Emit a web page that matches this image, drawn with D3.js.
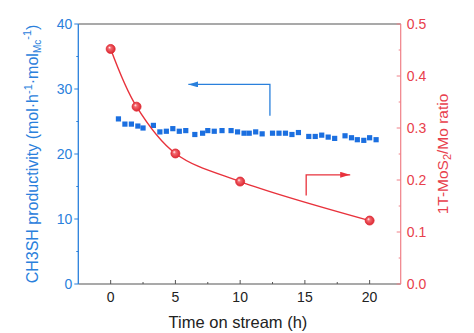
<!DOCTYPE html>
<html>
<head>
<meta charset="utf-8">
<script src="https://cdn.jsdelivr.net/npm/d3@7"></script>
<style>
  html, body { margin: 0; padding: 0; background: #fff; }
  svg { display: block; font-family: "Liberation Sans", Arial, sans-serif; }
</style>
</head>
<body>
<svg id="chart" width="474" height="333"></svg>
<script>
// Methanethiol productivity (left axis) over time on stream
const productivityTime = [0.6, 1.1, 1.6, 2.1, 2.5, 3.3, 3.8, 4.3, 4.8, 5.3, 5.8, 6.5, 7.1, 7.5, 8.0, 8.6,
  9.3, 9.8, 10.3, 10.7, 11.2, 11.7, 12.5, 13.0, 13.5, 14.0, 14.5, 15.3, 15.8, 16.3, 16.8, 17.3,
  18.1, 18.6, 19.05, 19.55, 20.0, 20.5];
const productivity = [25.4, 24.6, 24.6, 24.3, 24.0, 24.4, 23.4, 23.5, 23.9, 23.5, 23.6, 23.0, 23.2, 23.6, 23.5, 23.6,
  23.6, 23.4, 23.2, 23.2, 23.4, 23.1, 23.2, 23.2, 23.2, 23.0, 23.3, 22.7, 22.7, 22.9, 22.6, 22.4,
  22.8, 22.5, 22.2, 22.1, 22.5, 22.2];

// 1T-MoS2/Mo ratio (right axis)
const ratioTime = [0, 2, 5, 10, 20];
const ratio = [0.452, 0.341, 0.251, 0.197, 0.122];

// Axis ticks
const xTicks = [0, 5, 10, 15, 20];
const xMinor = [2.5, 7.5, 12.5, 17.5];
const yLeftTicks = [0, 10, 20, 30, 40];
const yLeftMinor = [5, 15, 25, 35];
const yRightTicks = [0.0, 0.1, 0.2, 0.3, 0.4, 0.5];
const yRightMinor = [0.05, 0.15, 0.25, 0.35, 0.45];

const BLUE = "#1b6fe0";
const BLUE_TEXT = "#2a80dc";
const RED = "#e8323c";
const RED_AXIS = "#f08088";
const RED_TEXT = "#e8404c";
const FRAME = "#555";

const L = 78.3, R = 400.7, T = 24, B = 284;

const svg = d3.select("#chart");

const x = d3.scaleLinear().domain([-2.5, 22.4]).range([L, R]);
const yL = d3.scaleLinear().domain([0, 40]).range([B, T]);
const yR = d3.scaleLinear().domain([0, 0.5]).range([B, T]);

// Frame: top line
svg.append("line").attr("x1", L).attr("x2", R).attr("y1", T).attr("y2", T)
  .attr("stroke", FRAME).attr("stroke-width", 1.2);

// Bottom axis (ticks point inward)
const gx = svg.append("g").attr("transform", `translate(0,${B})`);
gx.append("line").attr("x1", L).attr("x2", R).attr("stroke", FRAME).attr("stroke-width", 1.2);
gx.selectAll(".maj").data(xTicks).join("line").attr("class", "maj")
  .attr("x1", d => x(d)).attr("x2", d => x(d)).attr("y1", 0).attr("y2", -4)
  .attr("stroke", FRAME);
gx.selectAll(".min").data(xMinor).join("line").attr("class", "min")
  .attr("x1", d => x(d)).attr("x2", d => x(d)).attr("y1", 0).attr("y2", -2)
  .attr("stroke", FRAME);
gx.selectAll("text").data(xTicks).join("text")
  .attr("x", d => x(d)).attr("y", 18).attr("text-anchor", "middle")
  .attr("font-size", 14).attr("fill", "#222").text(d => d);

svg.append("text").attr("x", 238).attr("y", 328).attr("text-anchor", "middle")
  .attr("font-size", 16.5).attr("fill", "#222").text("Time on stream (h)");

// Left axis (blue, ticks outward)
const gl = svg.append("g").attr("transform", `translate(${L},0)`);
gl.append("line").attr("y1", T).attr("y2", B).attr("stroke", BLUE_TEXT).attr("stroke-width", 1.3);
gl.selectAll(".maj").data(yLeftTicks).join("line").attr("class", "maj")
  .attr("y1", d => yL(d)).attr("y2", d => yL(d)).attr("x1", 0).attr("x2", -4)
  .attr("stroke", BLUE_TEXT);
gl.selectAll(".min").data(yLeftMinor).join("line").attr("class", "min")
  .attr("y1", d => yL(d)).attr("y2", d => yL(d)).attr("x1", 0).attr("x2", -2)
  .attr("stroke", BLUE_TEXT);
gl.selectAll("text").data(yLeftTicks).join("text")
  .attr("x", -6).attr("y", d => yL(d) + 5).attr("text-anchor", "end")
  .attr("font-size", 14).attr("fill", BLUE_TEXT).text(d => d);

const leftLabel = svg.append("text")
  .attr("transform", "translate(38,154) rotate(-90)")
  .attr("text-anchor", "middle").attr("font-size", 16).attr("fill", BLUE_TEXT);
leftLabel.append("tspan").text("CH3SH productivity (mol·h");
leftLabel.append("tspan").attr("font-size", 11).attr("dy", -6).text("-1");
leftLabel.append("tspan").attr("dy", 6).text("·mol");
leftLabel.append("tspan").attr("font-size", 10).attr("dy", 3).text("Mc");
leftLabel.append("tspan").attr("font-size", 11).attr("dy", -10).text("-1");
leftLabel.append("tspan").attr("dy", 7).text(")");

// Right axis (red, ticks inward)
const gr = svg.append("g").attr("transform", `translate(${R},0)`);
gr.append("line").attr("y1", T).attr("y2", B).attr("stroke", RED_AXIS).attr("stroke-width", 1.2);
gr.selectAll(".maj").data(yRightTicks).join("line").attr("class", "maj")
  .attr("y1", d => yR(d)).attr("y2", d => yR(d)).attr("x1", 0).attr("x2", -4)
  .attr("stroke", RED_AXIS);
gr.selectAll(".min").data(yRightMinor).join("line").attr("class", "min")
  .attr("y1", d => yR(d)).attr("y2", d => yR(d)).attr("x1", 0).attr("x2", -2)
  .attr("stroke", RED_AXIS);
gr.selectAll("text").data(yRightTicks).join("text")
  .attr("x", 6).attr("y", d => yR(d) + 5).attr("text-anchor", "start")
  .attr("font-size", 14).attr("fill", RED_TEXT).text(d => d.toFixed(1));

const rightLabel = svg.append("text")
  .attr("transform", "translate(448,154) rotate(-90)")
  .attr("text-anchor", "middle").attr("font-size", 15.5).attr("fill", RED_TEXT);
rightLabel.append("tspan").text("1T-MoS");
rightLabel.append("tspan").attr("font-size", 11).attr("dy", 3).text("2");
rightLabel.append("tspan").attr("dy", -3).text("/Mo ratio");

// Productivity markers
svg.append("g").selectAll("rect").data(productivityTime.map((t, i) => [t, productivity[i]]))
  .join("rect")
  .attr("x", d => x(d[0]) - 2.6).attr("y", d => yL(d[1]) - 2.6)
  .attr("width", 5.2).attr("height", 5.2).attr("fill", BLUE);

// Ratio curve with shaded sphere markers
const defs = svg.append("defs");
const grad = defs.append("radialGradient").attr("id", "ball")
  .attr("cx", "50%").attr("cy", "50%").attr("r", "55%").attr("fx", "35%").attr("fy", "32%");
grad.append("stop").attr("offset", "0%").attr("stop-color", "#fff");
grad.append("stop").attr("offset", "30%").attr("stop-color", "#f46a70");
grad.append("stop").attr("offset", "100%").attr("stop-color", "#d8202a");

const ratioPts = ratioTime.map((t, i) => [t, ratio[i]]);
svg.append("path").datum(ratioPts)
  .attr("d", d3.line().x(d => x(d[0])).y(d => yR(d[1])).curve(d3.curveCatmullRom.alpha(0.5)))
  .attr("fill", "none").attr("stroke", RED).attr("stroke-width", 1.4);
svg.append("g").selectAll("circle").data(ratioPts).join("circle")
  .attr("cx", d => x(d[0])).attr("cy", d => yR(d[1])).attr("r", 4.5)
  .attr("fill", "url(#ball)").attr("stroke", "#e02a34").attr("stroke-width", 0.8);

// Arrows pointing to each series' axis
defs.append("marker").attr("id", "headBlue").attr("viewBox", "0 0 10 6")
  .attr("refX", 10).attr("refY", 3).attr("markerWidth", 10).attr("markerHeight", 6)
  .attr("markerUnits", "userSpaceOnUse").attr("orient", "auto")
  .append("path").attr("d", "M0,0 L10,3 L0,6 Z").attr("fill", BLUE_TEXT);
defs.append("marker").attr("id", "headRed").attr("viewBox", "0 0 10 6")
  .attr("refX", 10).attr("refY", 3).attr("markerWidth", 10).attr("markerHeight", 6)
  .attr("markerUnits", "userSpaceOnUse").attr("orient", "auto")
  .append("path").attr("d", "M0,0 L10,3 L0,6 Z").attr("fill", RED);

svg.append("path")
  .attr("d", `M${x(12.3)},${yL(25.9)} V${yL(30.7)} H${x(6.0)}`)
  .attr("fill", "none").attr("stroke", BLUE_TEXT).attr("stroke-width", 1.3)
  .attr("marker-end", "url(#headBlue)");
svg.append("path")
  .attr("d", `M${x(15.1)},${yR(0.170)} V${yR(0.210)} H${x(18.5)}`)
  .attr("fill", "none").attr("stroke", RED).attr("stroke-width", 1.3)
  .attr("marker-end", "url(#headRed)");
</script>
</body>
</html>
